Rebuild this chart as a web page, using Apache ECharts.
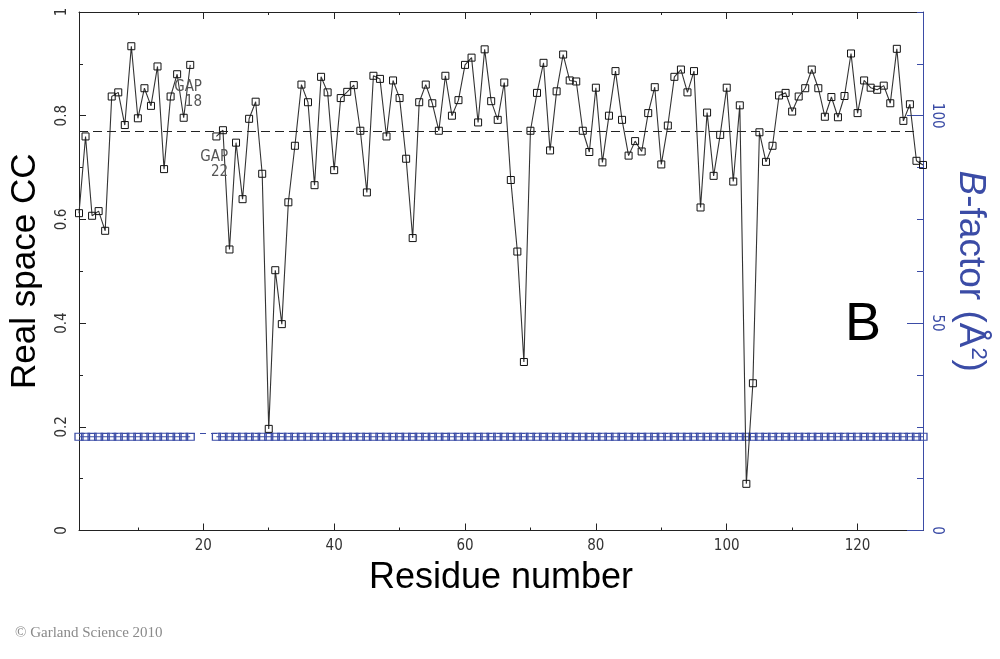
<!DOCTYPE html>
<html>
<head>
<meta charset="utf-8">
<script src="https://cdn.jsdelivr.net/npm/echarts@6/dist/echarts.min.js"></script>
<style>
html, body { margin: 0; padding: 0; background: #fff; }
#chart { width: 1000px; height: 659px; }
</style>
</head>
<body>
<div id="chart"></div>
<script>
// real space correlation per residue (1..130), residues 19-21 missing (gap)
var ccValues = [
    0.612, 0.760, 0.607, 0.616, 0.578, 0.837, 0.845, 0.782, 0.934, 0.795,
    0.853, 0.819, 0.895, 0.697, 0.837, 0.880, 0.796, 0.898, null, null,
    null, 0.760, 0.772, 0.542, 0.748, 0.639, 0.794, 0.827, 0.688, 0.196,
    0.502, 0.398, 0.633, 0.742, 0.860, 0.826, 0.666, 0.875, 0.845, 0.695,
    0.834, 0.846, 0.859, 0.771, 0.652, 0.877, 0.871, 0.760, 0.868, 0.834,
    0.717, 0.564, 0.826, 0.860, 0.824, 0.771, 0.877, 0.800, 0.830, 0.898,
    0.912, 0.787, 0.928, 0.828, 0.792, 0.864, 0.676, 0.538, 0.325, 0.771,
    0.844, 0.902, 0.733, 0.847, 0.918, 0.868, 0.866, 0.771, 0.730, 0.854,
    0.710, 0.800, 0.886, 0.792, 0.723, 0.751, 0.731, 0.805, 0.855, 0.706,
    0.781, 0.875, 0.889, 0.845, 0.886, 0.623, 0.806, 0.684, 0.763, 0.854,
    0.673, 0.820, 0.090, 0.284, 0.768, 0.711, 0.742, 0.839, 0.844, 0.808,
    0.837, 0.853, 0.889, 0.853, 0.798, 0.836, 0.797, 0.838, 0.920, 0.805,
    0.868, 0.854, 0.850, 0.858, 0.824, 0.929, 0.790, 0.822, 0.713, 0.705
];

// B-factor per residue (flat in the figure)
var bValues = [
    22.6, 22.6, 22.6, 22.6, 22.6, 22.6, 22.6, 22.6, 22.6, 22.6,
    22.6, 22.6, 22.6, 22.6, 22.6, 22.6, 22.6, 22.6, null, null,
    null, 22.6, 22.6, 22.6, 22.6, 22.6, 22.6, 22.6, 22.6, 22.6,
    22.6, 22.6, 22.6, 22.6, 22.6, 22.6, 22.6, 22.6, 22.6, 22.6,
    22.6, 22.6, 22.6, 22.6, 22.6, 22.6, 22.6, 22.6, 22.6, 22.6,
    22.6, 22.6, 22.6, 22.6, 22.6, 22.6, 22.6, 22.6, 22.6, 22.6,
    22.6, 22.6, 22.6, 22.6, 22.6, 22.6, 22.6, 22.6, 22.6, 22.6,
    22.6, 22.6, 22.6, 22.6, 22.6, 22.6, 22.6, 22.6, 22.6, 22.6,
    22.6, 22.6, 22.6, 22.6, 22.6, 22.6, 22.6, 22.6, 22.6, 22.6,
    22.6, 22.6, 22.6, 22.6, 22.6, 22.6, 22.6, 22.6, 22.6, 22.6,
    22.6, 22.6, 22.6, 22.6, 22.6, 22.6, 22.6, 22.6, 22.6, 22.6,
    22.6, 22.6, 22.6, 22.6, 22.6, 22.6, 22.6, 22.6, 22.6, 22.6,
    22.6, 22.6, 22.6, 22.6, 22.6, 22.6, 22.6, 22.6, 22.6, 22.6
];

var ccMean = 0.7705;
var bMean = 23.4;

var xMajorTicks = [20, 40, 60, 80, 100, 120];
var xMinorTicks = [10, 30, 50, 70, 90, 110];
var rightMajorTicks = [0, 50, 100];

var BLUE = '#3b4ca6';
var INK = '#222';
var tickFont = "'Liberation Sans Narrow', 'DejaVu Sans Condensed', sans-serif";
var bigFont = "'Liberation Sans', Arial, sans-serif";

var ccData = [];
var bData = [];
for (var i = 0; i < ccValues.length; i++) {
    ccData.push([i + 1, ccValues[i]]);
    bData.push([i + 1, bValues[i]]);
}

var dom = document.getElementById('chart');
var myChart = echarts.init(dom, null, { renderer: 'canvas' });

function xAx(pos, ticks, len, withLine, withLabels) {
    return {
        type: 'value', position: pos, min: 1, max: 130,
        axisLine: { show: withLine, onZero: false, lineStyle: { color: INK, width: 1 } },
        axisTick: { show: true, inside: true, length: len, customValues: ticks, lineStyle: { color: INK } },
        axisLabel: withLabels ? {
            show: true, customValues: xMajorTicks, margin: 8,
            color: '#333', fontSize: 15, fontFamily: tickFont
        } : { show: false },
        splitLine: { show: false }
    };
}

var bottomAxis = xAx('bottom', xMajorTicks, 7, true, true);
bottomAxis.name = 'Residue number';
bottomAxis.nameLocation = 'middle';
bottomAxis.nameGap = 30;
bottomAxis.nameTextStyle = { color: '#000', fontSize: 36, fontFamily: bigFont };

option = {
    animation: false,
    backgroundColor: '#fff',
    grid: { left: 79, right: 77, top: 12, bottom: 128.5, outerBoundsMode: 'none' },
    xAxis: [
        bottomAxis,
        xAx('bottom', xMinorTicks, 3, false, false),
        xAx('top', xMajorTicks, 7, true, false),
        xAx('top', xMinorTicks, 3, false, false)
    ],
    yAxis: [
        {
            type: 'value', position: 'left', min: 0, max: 1, interval: 0.2,
            axisLine: { show: true, onZero: false, lineStyle: { color: INK } },
            axisTick: { show: true, inside: true, length: 7, lineStyle: { color: INK } },
            minorTick: { show: true, splitNumber: 2, length: 4, lineStyle: { color: INK } },
            axisLabel: {
                rotate: 90, margin: 9, color: '#333', fontSize: 15, fontFamily: tickFont,
                formatter: function (v) { return String(Math.round(v * 10) / 10); }
            },
            splitLine: { show: false },
            name: 'Real space CC', nameLocation: 'middle', nameRotate: 90, nameGap: 36,
            nameTextStyle: { color: '#000', fontSize: 35, fontFamily: bigFont }
        },
        {
            type: 'value', position: 'right', min: 0, max: 125, interval: 12.5,
            axisLine: { show: true, onZero: false, lineStyle: { color: BLUE } },
            axisTick: { show: true, inside: true, length: 6, lineStyle: { color: BLUE } },
            axisLabel: {
                rotate: -90, margin: 6, color: BLUE, fontSize: 15, fontFamily: tickFont,
                formatter: function (v) { return rightMajorTicks.indexOf(v) >= 0 ? String(v) : ''; }
            },
            splitLine: { show: false },
            name: '{i|B}-factor (Å{s|2})', nameLocation: 'middle', nameRotate: -90, nameGap: 26,
            nameTextStyle: {
                color: BLUE, fontSize: 37, fontFamily: bigFont,
                rich: {
                    i: { fontStyle: 'italic', fontSize: 37, color: BLUE, fontFamily: bigFont },
                    s: { fontSize: 22, color: BLUE, fontFamily: bigFont, verticalAlign: 'top' }
                }
            }
        },
        {
            type: 'value', position: 'right', min: 0, max: 125,
            axisLine: { show: false, onZero: false },
            axisTick: { show: true, inside: true, length: 16, customValues: rightMajorTicks, lineStyle: { color: BLUE } },
            axisLabel: { show: false },
            splitLine: { show: false }
        }
    ],
    series: [
        {
            name: 'B-factor', type: 'line', xAxisIndex: 0, yAxisIndex: 1,
            data: bData, connectNulls: false,
            symbol: 'rect', symbolSize: [8, 7],
            itemStyle: { color: 'rgba(0,0,0,0)', borderColor: BLUE, borderWidth: 1.2 },
            lineStyle: { color: BLUE, width: 1.2 },
            emphasis: { disabled: true },
            markLine: {
                silent: true, symbol: ['none', 'none'], label: { show: false },
                lineStyle: { color: BLUE, type: [6, 5], width: 1.2 },
                data: [{ yAxis: bMean }]
            },
            z: 2
        },
        {
            name: 'CC', type: 'line', xAxisIndex: 0, yAxisIndex: 0,
            data: ccData, connectNulls: false,
            symbol: 'rect', symbolSize: 7,
            itemStyle: { color: 'rgba(0,0,0,0)', borderColor: '#111', borderWidth: 1 },
            lineStyle: { color: '#333', width: 1.1 },
            emphasis: { disabled: true },
            markLine: {
                silent: true, symbol: ['none', 'none'], label: { show: false },
                lineStyle: { color: INK, type: [9, 5], width: 1.1 },
                data: [[{ coord: [1, ccMean] }, { coord: [129, ccMean] }]]
            },
            z: 3
        }
    ]
};

myChart.setOption(option, true);

// annotations placed from data coordinates
var gap18 = myChart.convertToPixel({ xAxisIndex: 0, yAxisIndex: 0 }, [19.8, 0.84]);
var gap22 = myChart.convertToPixel({ xAxisIndex: 0, yAxisIndex: 0 }, [23.8, 0.705]);
var gapStyle = { fill: '#555', fontSize: 15, fontFamily: tickFont, align: 'right', verticalAlign: 'middle', lineHeight: 15 };

myChart.setOption({
    graphic: [
        { type: 'text', x: gap18[0], y: gap18[1], style: Object.assign({ text: 'GAP\n18' }, gapStyle), z: 10 },
        { type: 'text', x: gap22[0], y: gap22[1], style: Object.assign({ text: 'GAP\n22' }, gapStyle), z: 10 },
        { type: 'text', x: 863, y: 325, style: { text: 'B', fill: '#000', fontSize: 54, fontFamily: bigFont, align: 'center', verticalAlign: 'middle' } },
        { type: 'text', x: 15, y: 633, style: { text: '© Garland Science 2010', fill: '#8a8a8a', fontSize: 15, fontFamily: "'Liberation Serif', serif", align: 'left', verticalAlign: 'middle' } }
    ]
});
</script>
</body>
</html>
